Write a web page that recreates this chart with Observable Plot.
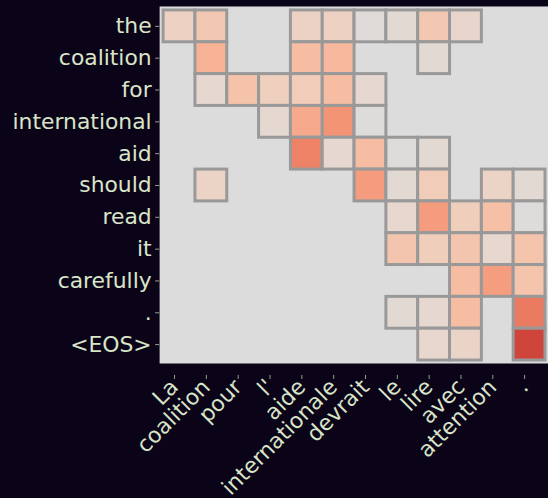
<!DOCTYPE html>
<html>
<head>
<meta charset="utf-8">
<script src="https://cdn.jsdelivr.net/npm/d3@7"></script>
<script src="https://cdn.jsdelivr.net/npm/@observablehq/plot@0.6"></script>
<style>
  html, body { margin: 0; padding: 0; background: #0b0419; overflow: hidden; }
  #chart svg { display: block; }
</style>
</head>
<body>
<div id="chart"></div>
<script>
// Source (French) tokens along x, target (English) tokens along y
const sourceTokens = ["La", "coalition", "pour", "l'", "aide", "internationale", "devrait", "le", "lire", "avec", "attention", "."];
const targetTokens = ["the", "coalition", "for", "international", "aid", "should", "read", "it", "carefully", ".", "<EOS>"];

// Attention weights, one row per target token; null = weight below the display threshold
const attentionRows = [
  [0.14, 0.22, null, null, 0.13, 0.14, 0.02, 0.05, 0.22, 0.09, null, null],
  [null, 0.37, null, null, 0.30, 0.33, null, null, 0.05, null, null, null],
  [null, 0.07, 0.26, 0.16, 0.19, 0.30, 0.07, null, null, null, null, null],
  [null, null, null, 0.06, 0.42, 0.53, 0.01, null, null, null, null, null],
  [null, null, null, null, 0.61, 0.07, 0.30, 0.01, 0.05, null, null, null],
  [null, 0.12, null, null, null, null, 0.49, 0.05, 0.19, null, 0.12, 0.05],
  [null, null, null, null, null, null, null, 0.08, 0.49, 0.17, 0.28, 0.01],
  [null, null, null, null, null, null, null, 0.24, 0.17, 0.24, 0.08, 0.25],
  [null, null, null, null, null, null, null, null, null, 0.30, 0.48, 0.25],
  [null, null, null, null, null, null, null, 0.05, 0.07, 0.30, null, 0.64],
  [null, null, null, null, null, null, null, null, 0.08, 0.11, null, 0.85]
];

// Warm half of the cool-to-warm diverging map (neutral grey to red)
const warmStops = ["#dddddd", "#e5d8d1", "#ecd3c5", "#f1ccb8", "#f5c4ac", "#f7bba0", "#f7b194", "#f7a787",
                   "#f49a7b", "#f18d6f", "#ec7f63", "#e57058", "#de604d", "#d55042", "#cb3e38", "#c0282f", "#b40426"];

const cells = [];
attentionRows.forEach((row, i) => row.forEach((w, j) => {
  if (w != null) cells.push({target: targetTokens[i], source: sourceTokens[j], weight: w});
}));

const plot = Plot.plot({
  width: 551,
  height: 498,
  marginLeft: 160,
  marginRight: 0,
  marginTop: 6,
  marginBottom: 133,
  style: {background: "#0b0419", color: "#d9e5c8", fontFamily: "'DejaVu Sans', sans-serif", fontSize: "22px"},
  x: {domain: sourceTokens, padding: 0, label: null},
  y: {domain: targetTokens, padding: 0, label: null},
  color: {type: "linear", domain: [0, 1], interpolate: d3.piecewise(d3.interpolateRgb, warmStops)},
  marks: [
    Plot.frame({fill: "#dcdcdc", stroke: null}),
    Plot.cell(cells, {x: "source", y: "target", fill: "weight", stroke: "#999999", strokeWidth: 3, inset: 0}),
    Plot.axisY({tickSize: 4, tickPadding: 4, fontSize: 22, stroke: "#9aa090"}),
    Plot.axisX({tickSize: 4, tickPadding: 4, tickRotate: -45, fontSize: 22, stroke: "#9aa090", dx: -5, dy: 12})
  ]
});
document.getElementById("chart").append(plot);
</script>
</body>
</html>
